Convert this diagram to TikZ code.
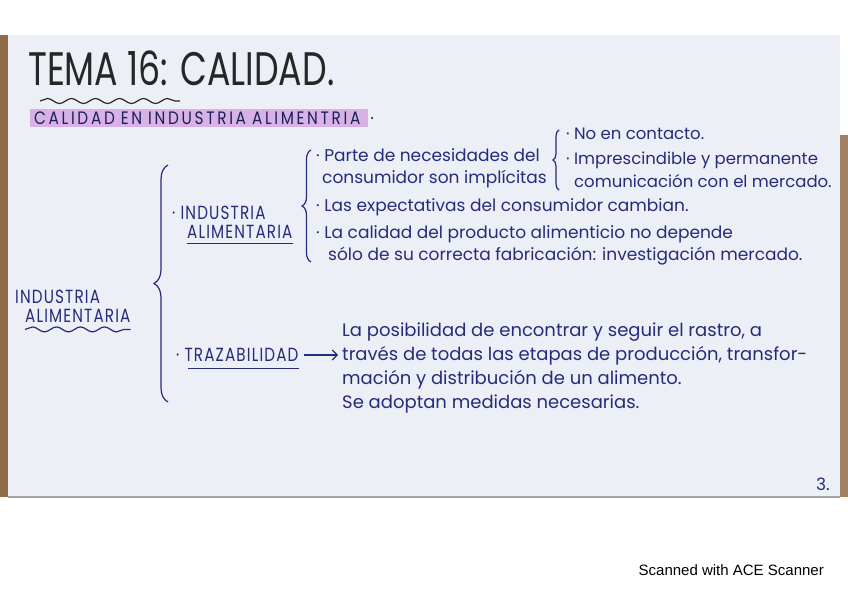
\documentclass[tikz,border=0pt]{standalone}
\usepackage{fontspec}
\usepackage{tikz}
\usepackage{xcolor}
\usetikzlibrary{decorations.pathreplacing,decorations.pathmorphing,arrows.meta,positioning}
\setmainfont{Poppins}
\newfontfamily\titlefont[FakeStretch=0.74]{Poppins}
\newfontfamily\capsfont[FakeStretch=0.8, LetterSpace=6]{Poppins}
\newfontfamily\subfont[FakeStretch=0.85, LetterSpace=15]{Poppins}
\newfontfamily\scanfont{Liberation Sans}
\definecolor{tinta}{HTML}{262B7C}
\definecolor{papel}{HTML}{ECEFF5}
\definecolor{lila}{HTML}{D8B2E6}
\definecolor{madera}{HTML}{8E6C47}

\tikzset{
  hand/.style={text=tinta, font=\fontsize{17}{22}\selectfont, align=left, inner sep=0pt},
  mayus/.style={text=tinta, font=\capsfont\fontsize{19}{19}\selectfont, align=left, inner sep=0pt},
  llave/.style={draw=tinta, line width=1.2, decorate, decoration={brace, amplitude=#1}},
  llave/.default=8,
  ola/.style={draw=tinta, line width=1.2, decorate, decoration={snake, amplitude=2.5, segment length=24}},
  subraya/.style={draw=tinta, line width=1.2},
  flecha/.style={draw=tinta, line width=1.1, -{Straight Barb[length=5pt]}, shorten <=5pt, shorten >=4pt}
}

\begin{document}
\begin{tikzpicture}[x=1pt, y=-1pt]
\path[use as bounding box] (0,0) rectangle (848,599);
\fill[white] (0,0) rectangle (848,599);
\fill[papel] (8,35) rectangle (840,497);
\fill[madera] (0,35) rectangle (8,497);
\fill[madera!85] (840,135) rectangle (848,497);
\draw[black!35, line width=1.5] (8,497) -- (840,497);

\node[anchor=base west, inner sep=0pt, text=black!85, font=\titlefont\fontsize{47}{47}\selectfont] (titulo) at (28,86) {TEMA 16: CALIDAD.};
\draw[ola, draw=black!85] (40,101) -- (180,101);
\node[anchor=west, fill=lila, text width=330, inner xsep=4, inner ysep=3, text=tinta!70!black, font=\subfont\fontsize{18}{18}\selectfont] (subtitulo) at (30,118) {CALIDAD EN INDUSTRIA ALIMENTRIA};
\node[right=2pt of subtitulo, inner sep=0pt, text=tinta!70!black, font=\subfont\fontsize{18}{18}\selectfont] (punto) {.};

\node[mayus, anchor=west] (ia) at (15,306) {INDUSTRIA\\\hspace*{10pt}ALIMENTARIA};
\draw[ola] ([xshift=10,yshift=-7]ia.south west) -- ([yshift=-7]ia.south east);

\draw[llave=14] (168,402) -- (168,165);
\node[mayus, anchor=west] (ind) at (172,222) {· INDUSTRIA\\\hspace*{15pt}ALIMENTARIA};
\draw[subraya] ([xshift=15,yshift=-5]ind.south west) -- ([yshift=-5]ind.south east);
\node[mayus, anchor=west] (trz) at (176,355) {· TRAZABILIDAD};
\draw[subraya] ([xshift=12,yshift=-7]trz.south west) -- ([yshift=-7]trz.south east);

\draw[llave=9] (311,262) -- (311,150);
\node[hand, anchor=north west] (p1) at (316,148) {· Parte de necesidades del\\\hspace*{6pt}consumidor son implícitas};
\node[hand, anchor=north west] (p2) at (316,198) {· Las expectativas del consumidor cambian.};
\node[hand, anchor=north west] (p3) at (316,225) {· La calidad del producto alimenticio no depende\\\hspace*{12pt}sólo de su correcta fabricación: investigación mercado.};

\draw[llave=6] (559,190) -- (559,130);
\node[hand, anchor=north west, font=\fontsize{16.5}{22}\selectfont] (s1) at (566,128) {· No en contacto.};
\node[hand, anchor=north west, font=\fontsize{16.5}{23}\selectfont] (s2) at (566,152) {· Imprescindible y permanente\\\hspace*{8pt}comunicación con el mercado.};

\node[hand, anchor=north west, font=\fontsize{18}{24}\selectfont] (def) at (342,323) {La posibilidad de encontrar y seguir el rastro, a\\través de todas las etapas de producción, transfor-\\mación y distribución de un alimento.\\Se adoptan medidas necesarias.};
\draw[flecha] (trz.east) -- (trz.east -| def.west);

\node[hand, anchor=base east] (pagina) at (830,490) {3.};
\node[anchor=base east, inner sep=0pt, font=\scanfont\fontsize{15}{15}\selectfont] (escaner) at (824,575) {Scanned with ACE Scanner};
\end{tikzpicture}
\end{document}
